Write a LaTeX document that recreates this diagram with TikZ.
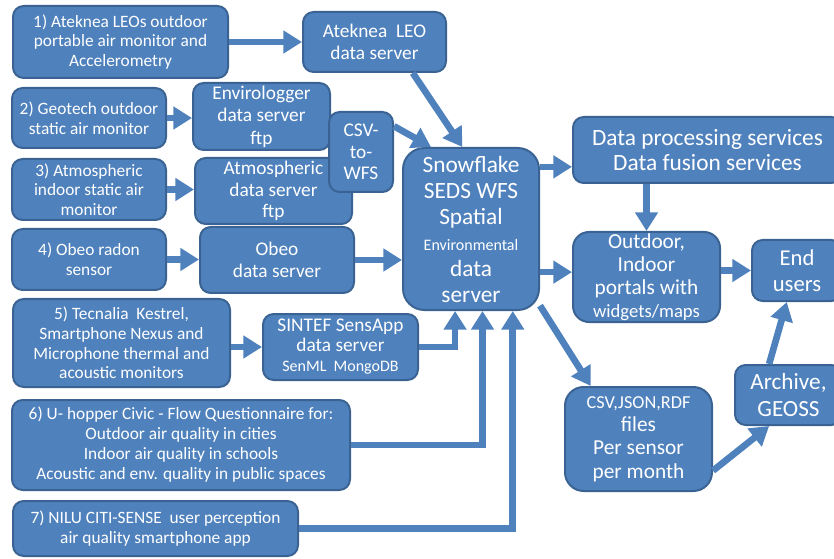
\documentclass[tikz,border=0pt]{standalone}
\usepackage{fontspec}
\setmainfont{Carlito}
\usetikzlibrary{arrows.meta}
\definecolor{boxblue}{HTML}{4F81BD}
\definecolor{boxedge}{HTML}{3A6393}
\newcommand{\boxfont}[2]{\fontsize{#1}{#2}\selectfont}
\tikzset{
  box/.style={draw=boxedge, fill=boxblue, line width=1.5pt, rounded corners=8pt,
    inner sep=0pt, text=white, align=center},
  sz/.style 2 args={minimum width=#1*0.75pt, minimum height=#2*0.75pt},
  flow/.style={draw=boxblue, line width=5pt, -{Triangle[width=16.5pt,length=14pt]}},
}
\begin{document}
\begin{tikzpicture}[x=0.75pt, y=-0.75pt]
\clip (0,0) rectangle (834,559);
% sensors and their servers
\node[box, sz={215}{72}, font=\boxfont{13}{14.7}] (leo) at (120.5,42) {1) Ateknea LEOs outdoor\\portable air monitor and\\Accelerometry};
\node[box, sz={143}{60}, font=\boxfont{14.5}{16.5}] (leosrv) at (374.5,42) {Ateknea\ \ LEO\\data server};
\node[box, sz={154}{60}, font=\boxfont{13}{14.7}] (geo) at (89,118) {2) Geotech outdoor\\static air monitor};
\node[box, sz={137}{67}, font=\boxfont{14.5}{16.9}] (envsrv) at (261.5,116.5) {Envirologger\\data server\\ftp};
\node[box, sz={154}{61}, font=\boxfont{13}{14.7}] (atm) at (89,189.5) {3) Atmospheric\\indoor static air\\monitor};
\node[box, sz={157}{66}, font=\boxfont{14.5}{16.2}] (atmsrv) at (273.5,191) {Atmospheric\\data server\\ftp};
\node[box, sz={64}{80}, font=\boxfont{14.5}{16.3}] (csvwfs) at (361,152) {CSV-\\to-\\WFS};
\node[box, sz={154}{61}, font=\boxfont{13}{14.7}] (obeo) at (89,259.5) {4) Obeo radon\\sensor};
\node[box, sz={154}{66}, font=\boxfont{14.5}{16.5}] (obeosrv) at (277,260) {Obeo\\data server};
\node[box, sz={217}{88}, font=\boxfont{13}{14.7}] (tec) at (121.5,343) {5) Tecnalia\ \ Kestrel,\\Smartphone Nexus and\\Microphone thermal and\\acoustic monitors};
\node[box, sz={155}{66}, font=\boxfont{14.5}{15}] (sensapp) at (340.5,347) {SINTEF SensApp\\data server\\{\boxfont{12}{15}SenML\ \ MongoDB}};
\node[box, sz={338}{90}, font=\boxfont{13}{15}] (uhop) at (181,445) {6) U- hopper Civic - Flow Questionnaire for:\\Outdoor air quality in cities\\Indoor air quality in schools\\Acoustic and env. quality in public spaces};
\node[box, sz={285}{55}, font=\boxfont{13}{15.5}] (nilu) at (155.5,528.5) {7) NILU CITI-SENSE\ \ user perception\\air quality smartphone app};
% central server and outputs
\node[box, sz={136}{162}, rounded corners=16pt, font=\boxfont{17.5}{19.5}] (seds) at (471,229) {Snowflake\\SEDS WFS\\Spatial\\{\boxfont{12}{17.5}Environmental}\\data\\server};
\node[box, sz={269}{66}, font=\boxfont{17.5}{18.8}] (proc) at (707.5,150) {Data processing services\\Data fusion services};
\node[box, sz={147}{90}, rounded corners=12pt, font=\boxfont{16}{17.3}] (portal) at (646.5,277) {Outdoor,\\Indoor\\portals with\\{\boxfont{14}{17.3}widgets/maps}};
\node[box, sz={90}{61}, font=\boxfont{17}{19.5}] (users) at (797,270.5) {End\\users};
\node[box, sz={147}{104}, rounded corners=14pt, font=\boxfont{16}{17.5}] (files) at (638.5,439) {{\boxfont{13.7}{17.5}CSV,JSON,RDF}\\files\\Per sensor\\per month};
\node[box, sz={107}{60}, font=\boxfont{17.4}{20}] (archive) at (788.5,395) {Archive,\\GEOSS};
% connectors
\draw[flow] (leo) -- (leosrv);
\draw[flow] (leosrv.-39) -- (seds.96);
\draw[flow] (geo.east) -- (envsrv.west |- geo.east);
\draw[flow] (csvwfs.38) -- (seds.116);
\draw[flow] (atm.east) -- (atmsrv.west |- atm.east);
\draw[flow] (obeo.east) -- (obeosrv.west |- obeo.east);
\draw[flow] (obeosrv.east) -- (seds.west |- obeosrv.east);
\draw[flow] (tec.east |- sensapp.west) -- (sensapp.west);
\draw[flow] (sensapp.east) -| (seds.-101);
\draw[flow] (uhop.east) -| (seds.-82);
\draw[flow] (nilu.east) -| (seds.-63);
\draw[flow] (seds.42) -- (proc.west |- seds.42);
\draw[flow] (seds.-32) -- (portal.west |- seds.-32);
\draw[flow] (proc.south -| portal.north) -- (portal.north);
\draw[flow] (portal.east |- users.west) -- (users.west);
\draw[flow] (seds.-48) -- (files.132);
\draw[flow] (files.-23) -- (archive.-122);
\draw[flow] (archive.122) -- (users.-108);
\end{tikzpicture}
\end{document}
